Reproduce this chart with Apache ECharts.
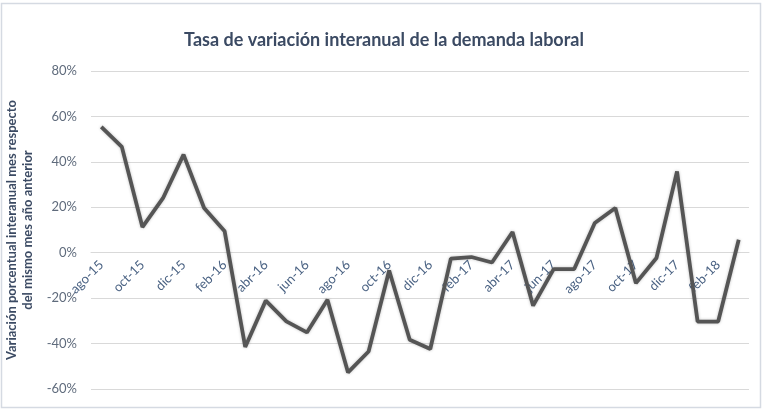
<!DOCTYPE html>
<html>
<head>
<meta charset="utf-8">
<script src="https://cdn.jsdelivr.net/npm/echarts@6/dist/echarts.min.js"></script>
<style>
html,body{margin:0;padding:0;background:#fff;}
#chart{width:768px;height:410px;}
</style>
</head>
<body>
<div id="chart"></div>
<script>
var categories = ['ago-15','sep-15','oct-15','nov-15','dic-15','ene-16','feb-16','mar-16','abr-16','may-16','jun-16','jul-16','ago-16','sep-16','oct-16','nov-16','dic-16','ene-17','feb-17','mar-17','abr-17','may-17','jun-17','jul-17','ago-17','sep-17','oct-17','nov-17','dic-17','ene-18','feb-18','mar-18'];
var values = [55.4, 46.6, 11.3, 24, 43.2, 19.7, 9.4, -41.5, -21.1, -30.2, -35.1, -20.7, -52.7, -43.5, -7.8, -38.3, -42.4, -2.6, -1.9, -4.3, 9.1, -23.3, -7.2, -7.2, 13.1, 19.7, -13.4, -2.3, 35.8, -30.3, -30.3, 5.7];
var yTicks = [-60, -40, -20, 0, 20, 40, 60, 80];
var titleText = 'Tasa de variación interanual de la demanda laboral';
var yName = 'Variación porcentual interanual mes respecto\ndel mismo mes año anterior';

var gridTop = 71, gridBottom = 21, H = 410;
var yMin = yTicks[0], yMax = yTicks[yTicks.length - 1];
var plotH = H - gridTop - gridBottom;
// place the category axis on the 0 line
var zeroOffset = -plotH * (0 - yMin) / (yMax - yMin);

var chart = echarts.init(document.getElementById('chart'), null, {renderer:'canvas'});
chart.setOption({
  backgroundColor: '#ffffff',
  animation: false,
  title: {
    text: titleText,
    left: 'center',
    top: 26,
    textStyle: { fontFamily: 'Lato', fontSize: 18, fontWeight: 'bold', color: '#3b4a63' }
  },
  graphic: [{
    type: 'rect',
    shape: { x: 1.5, y: 3.5, width: 759, height: 404 },
    style: { fill: 'none', stroke: '#d5dae2', lineWidth: 1.5 },
    silent: true,
    z: -1
  }],
  grid: { left: 91, right: 19, top: gridTop, bottom: gridBottom, containLabel: false, outerBoundsMode: 'none' },
  xAxis: {
    type: 'category',
    data: categories,
    boundaryGap: true,
    position: 'bottom',
    offset: zeroOffset,
    axisLine: { show: true, onZero: false, lineStyle: { color: '#d9d9d9', width: 1 } },
    axisTick: { show: false },
    axisLabel: {
      interval: 1,
      rotate: 45,
      margin: 10,
      color: '#4a6283',
      fontFamily: 'Lato',
      fontSize: 13
    },
    splitLine: { show: false }
  },
  yAxis: {
    type: 'value',
    min: yMin,
    max: yMax,
    interval: 20,
    name: yName,
    nameLocation: 'middle',
    nameGap: 52,
    nameRotate: 90,
    nameTextStyle: { fontFamily: 'Lato', fontSize: 13, fontWeight: 'bold', color: '#3b4a63', lineHeight: 16, align: 'center' },
    axisLine: { show: false },
    axisTick: { show: false },
    axisLabel: {
      formatter: '{value}%',
      color: '#5f6b7c',
      fontFamily: 'Lato',
      fontSize: 13,
      margin: 14
    },
    splitLine: { lineStyle: { color: '#d9d9d9', width: 1 } }
  },
  series: [{
    type: 'line',
    data: values,
    showSymbol: false,
    symbol: 'none',
    lineStyle: { color: '#555555', width: 3.8, shadowColor: 'rgba(0,0,0,0.25)', shadowBlur: 3 },
    itemStyle: { color: '#555555' }
  }]
});
</script>
</body>
</html>
